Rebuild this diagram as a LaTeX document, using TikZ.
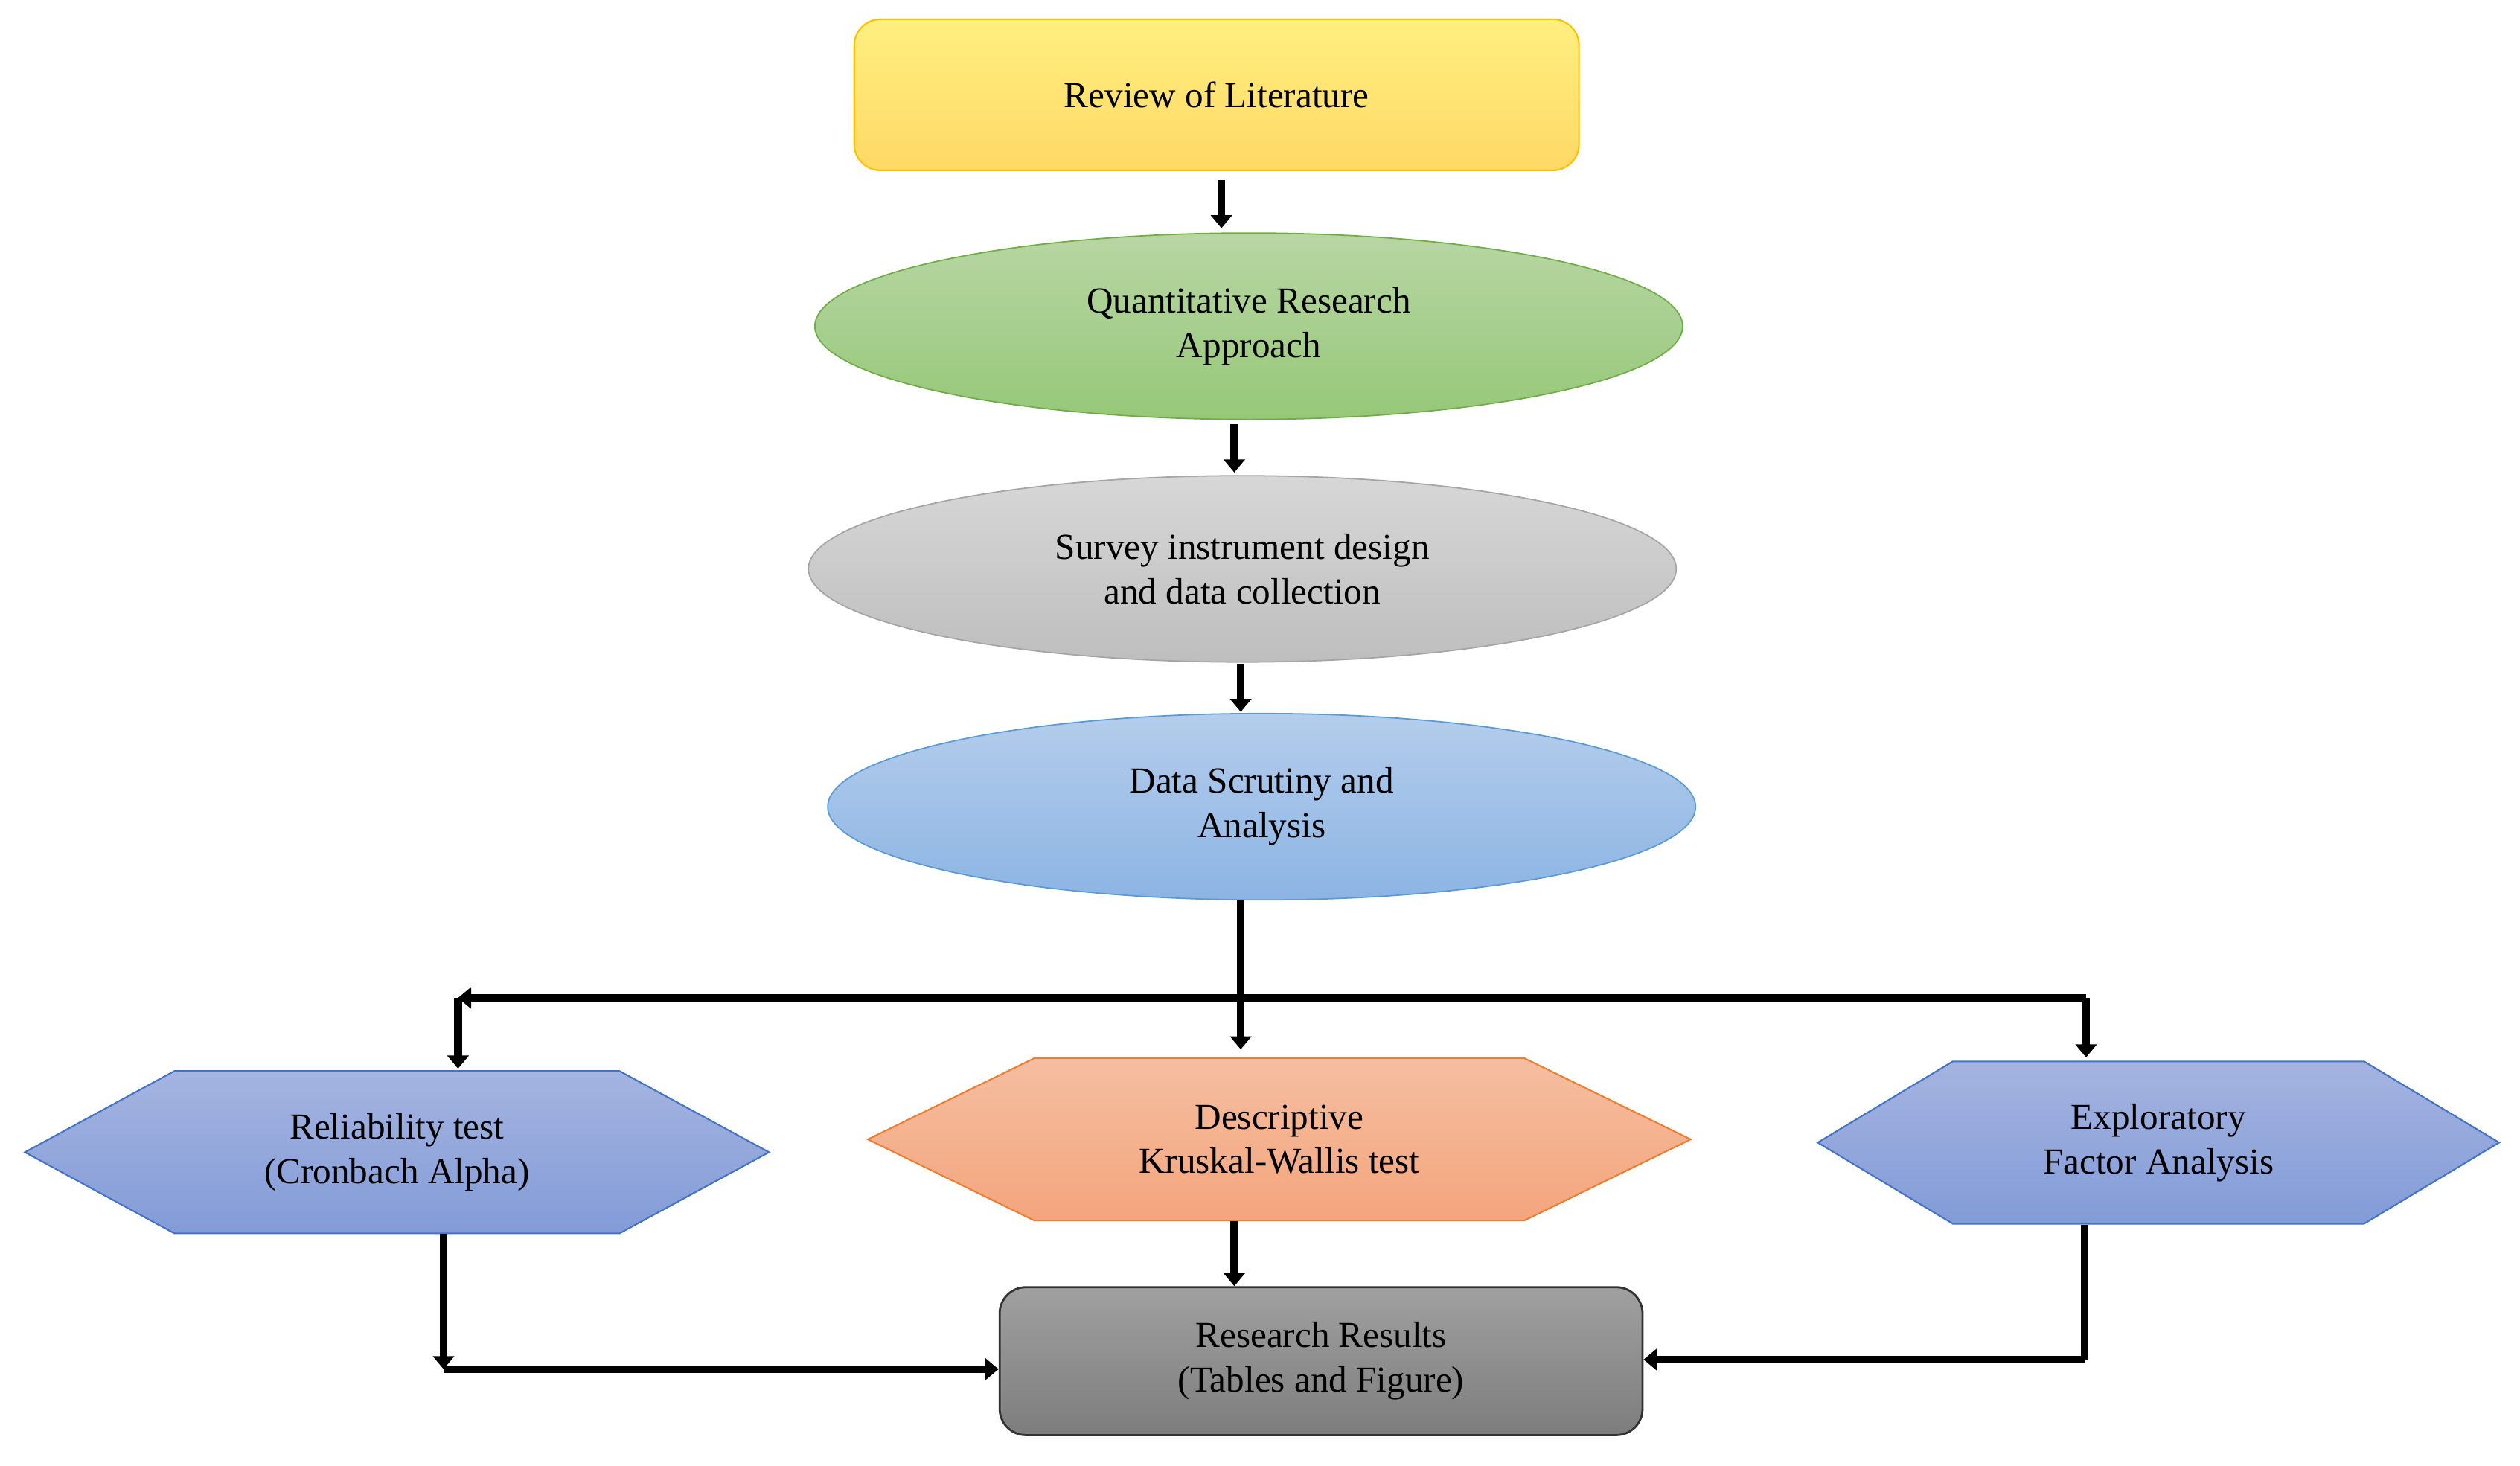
\documentclass[tikz,border=0pt]{standalone}
\usepackage{fontspec}
\setmainfont{Liberation Serif}
\usetikzlibrary{shapes.geometric,shapes.symbols,arrows.meta}
\begin{document}
\begin{tikzpicture}[x=0.0216cm,y=-0.0216cm,
  every node/.style={font=\fontsize{14}{17}\selectfont,align=center,inner sep=0pt},
  ell/.style={ellipse,minimum width=540*0.0216cm,minimum height=116*0.0216cm,line width=0.5pt},
  hex/.style={signal,signal to=east and west,minimum height=101*0.0216cm,line width=0.6pt,draw=blue!60!black!70},
  arr/.style={line width=3pt,-{Triangle[length=5pt,width=8pt]}},
  ln/.style={line width=3pt}]
\useasboundingbox (0,0) rectangle (1568,912);
\node[rectangle,rounded corners=10pt,minimum width=451*0.0216cm,minimum height=94*0.0216cm,top color=orange!25!yellow!50,bottom color=orange!50!yellow!60,draw={rgb,255:red,255;green,192;blue,0},line width=0.6pt] (rev) at (757,59) {Review of Literature};
\node[ell,top color={rgb,255:red,184;green,214;blue,164},bottom color={rgb,255:red,150;green,200;blue,120},draw={rgb,255:red,112;green,173;blue,71}] (qra) at (777,203) {Quantitative Research\\Approach};
\node[ell,top color={rgb,255:red,215;green,215;blue,215},bottom color={rgb,255:red,190;green,190;blue,190},draw={rgb,255:red,165;green,165;blue,165}] (sur) at (773,354) {Survey instrument design\\and data collection};
\node[ell,top color={rgb,255:red,180;green,205;blue,235},bottom color={rgb,255:red,140;green,180;blue,228},draw={rgb,255:red,91;green,155;blue,213}] (dsa) at (785,502) {Data Scrutiny and\\Analysis};
\node[hex,minimum width=463*0.0216cm,signal pointer angle=57,top color={rgb,255:red,165;green,180;blue,225},bottom color={rgb,255:red,130;green,155;blue,215},draw={rgb,255:red,68;green,114;blue,196}] (rel) at (247,717) {Reliability test\\(Cronbach Alpha)};
\node[hex,minimum width=512*0.0216cm,signal pointer angle=52,top color={rgb,255:red,245;green,190;blue,160},bottom color={rgb,255:red,244;green,165;blue,125},draw={rgb,255:red,237;green,125;blue,49}] (des) at (796,709) {Descriptive\\Kruskal-Wallis test};
\node[hex,minimum width=424*0.0216cm,signal pointer angle=62,top color={rgb,255:red,165;green,180;blue,225},bottom color={rgb,255:red,130;green,155;blue,215},draw={rgb,255:red,68;green,114;blue,196}] (efa) at (1343,711) {Exploratory\\Factor Analysis};
\node[rectangle,rounded corners=10pt,minimum width=400*0.0216cm,minimum height=92*0.0216cm,top color={rgb,255:red,160;green,160;blue,160},bottom color={rgb,255:red,125;green,125;blue,125},draw=black!80,line width=0.8pt] (res) at (822,847) {Research Results\\(Tables and Figure)};
\draw[arr] (760,112) -- (760,142);
\draw[arr] (768,264) -- (768,294);
\draw[arr] (772,413) -- (772,443);
\draw[arr] (dsa.south) ++(-13,0) -- (772,653);
\coordinate (hl) at (285,621); \coordinate (hr) at (1298,621);
\draw[ln,-{Triangle[length=5pt,width=8pt]}] (hr) -- (hl);
\draw[arr] (hl) -- (285,665);
\draw[arr] (hr) -- (1298,658);
\coordinate (bl) at (276,852); \coordinate (br) at (1297,846);
\draw[ln,-{Triangle[length=5pt,width=8pt]}] (276,768) -- (bl);
\draw[arr] (bl) -- (res.west |- bl);
\draw[arr] (768,760) -- (res.north -| 768,0);
\draw[ln] (1297,762) -- (br);
\draw[arr] (br) -- (res.east |- br);
\end{tikzpicture}
\end{document}
